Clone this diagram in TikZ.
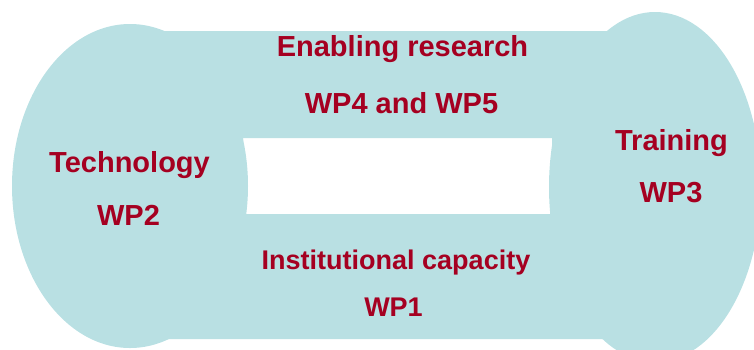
\documentclass[tikz,border=0pt]{standalone}
\usepackage{fontspec}
\setmainfont{Liberation Sans}
\definecolor{bandblue}{HTML}{B9E0E3}
\definecolor{wpred}{HTML}{A50021}
\tikzset{
  lbl/.style={anchor=base, inner sep=0pt, text=wpred,
    font=\fontsize{29}{34}\selectfont\bfseries},
  lblsmall/.style={lbl, font=\fontsize{27}{32}\selectfont\bfseries},
}
\begin{document}
\begin{tikzpicture}[x=1pt,y=-1pt]
\useasboundingbox (0,0) rectangle (754,349);
% band with the open middle
\fill[bandblue, even odd rule] (130,31) rectangle (655,339) (243,138) rectangle (552,214);
% left and right ellipses
\fill[bandblue] (130,186) ellipse [x radius=118pt, y radius=162pt];
\fill[bandblue] (655,187) ellipse [x radius=106pt, y radius=175pt];
% labels
\node[lbl] (er)  at (402.5,56)  {Enabling research};
\node[lbl] (wp45) at (401.5,113) {WP4 and WP5};
\node[lbl] (tech) at (129.5,172.5) {Technology};
\node[lbl] (wp2) at (128.5,225) {WP2};
\node[lbl] (train) at (671.5,150) {Training};
\node[lbl] (wp3) at (671,202) {WP3};
\node[lblsmall] (inst) at (396,269) {Institutional capacity};
\node[lblsmall] (wp1) at (393.5,316) {WP1};
\end{tikzpicture}
\end{document}
